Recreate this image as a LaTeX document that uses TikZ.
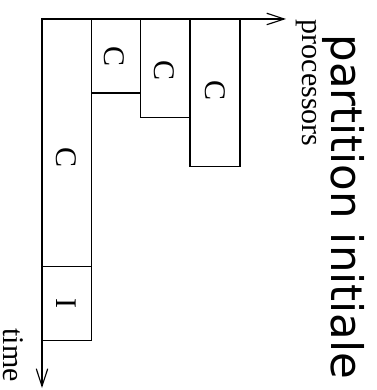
\documentclass[tikz,border=0pt]{standalone}
\usepackage{fontspec}
\setmainfont{Liberation Serif}
\newfontfamily\titlefont{DejaVu Sans}
\usetikzlibrary{arrows.meta}
\tikzset{
  >={Straight Barb[length=7pt,width=4.6pt,line width=0.45pt]},
  axis/.style = {draw, line width=0.8pt},
  job/.style = {draw, line width=0.45pt},
  tag/.style = {rotate=-90, inner sep=0, font=\fontsize{12}{14}\selectfont},
  axis name/.style = {tag, anchor=base west},
  title/.style = {axis name, font=\titlefont\fontsize{17.4}{20}\selectfont},
}
\begin{document}
\begin{tikzpicture}[x=0.4pt,y=-0.4pt]
\useasboundingbox (0,0) rectangle (376,390);
\coordinate (O) at (42,19);
\coordinate (P) at (286,19);
\coordinate (T) at (42,388);
% one column of tasks per processor
\draw[job] (42,19) rectangle (91.7,266.7);
\draw[job] (42,266.7) rectangle (91.7,340.7);
\draw[job] (91.7,19) rectangle (140.7,93);
\draw[job] (140.7,19) rectangle (190,117.7);
\draw[job] (190,19) rectangle (240,166.7);
\node[tag] (c1) at (66,158) {C};
\node[tag] (i1) at (66.8,303.7) {I};
\node[tag] (c2) at (114.5,57) {C};
\node[tag] (c3) at (164,71) {C};
\node[tag] (c4) at (215.5,91) {C};
% axes
\path[axis,<->] (P) -- (O) -- (T);
\node[axis name] (proc) at (302,19.5) {processors};
\node[axis name] (time) at (3.5,328) {time};
\node[title] (head) at (331,34) {partition initiale};
\end{tikzpicture}
\end{document}
